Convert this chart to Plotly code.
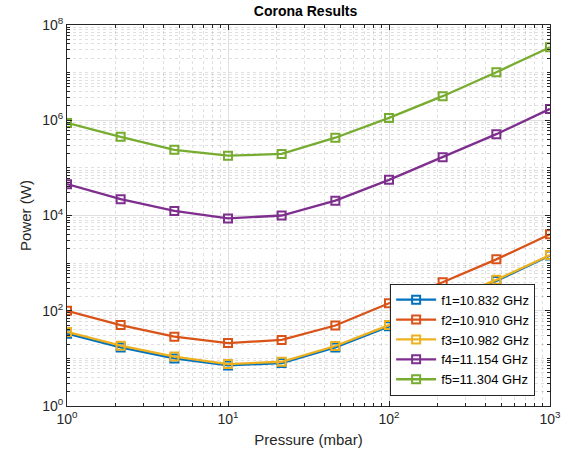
import plotly.graph_objects as go

pressure = [1, 2.154, 4.642, 10, 21.54, 46.42, 100, 215.4, 464.2, 1000]
f1 = [33, 17, 10, 7.1, 8.0, 17, 47, 145, 420, 1450]
f2 = [100, 50, 28.6, 21, 24.4, 49, 144, 397, 1200, 4040]
f3 = [36, 18.5, 10.9, 7.6, 8.5, 18.2, 50, 155, 445, 1480]
f4 = [45500, 22000, 12500, 8700, 10000, 20500, 56000, 167000, 510000, 1730000]
f5 = [880000, 450000, 240000, 180000, 196000, 430000, 1120000, 3200000, 10200000, 34000000]
names = ["f1=10.832 GHz", "f2=10.910 GHz", "f3=10.982 GHz", "f4=11.154 GHz", "f5=11.304 GHz"]
colors = ["#0072BD", "#D95319", "#EDB120", "#7E2F8E", "#77AC30"]

fig = go.Figure()
for ys, nm, c in zip([f1, f2, f3, f4, f5], names, colors):
    fig.add_trace(go.Scatter(
        x=pressure, y=ys, name=nm, mode="lines+markers",
        line=dict(color=c, width=2.3),
        marker=dict(symbol="square-open", size=8, color=c, line=dict(width=2, color=c)),
    ))

xminor = [m * 10**d for d in range(0, 3) for m in range(2, 10)]
yminor = [m * 10**d for d in range(0, 8) for m in range(1, 10) if not (m == 1 and d % 2 == 0)]

axis_common = dict(
    type="log", showline=True, linecolor="#262626", linewidth=1, mirror="ticks",
    ticks="inside", ticklen=5, tickcolor="#262626", automargin=False,
    showgrid=True, gridcolor="rgba(0,0,0,0.12)", gridwidth=1,
    zeroline=False, tickfont=dict(family="Liberation Sans, Arial", size=14, color="#262626"),
)
minor_common = dict(ticks="inside", ticklen=3, tickcolor="#262626",
                    showgrid=True, gridcolor="rgba(0,0,0,0.12)", griddash="dot", gridwidth=1)

fig.update_layout(
    width=568, height=460,
    margin=dict(l=67, r=18, t=25, b=54),
    paper_bgcolor="white", plot_bgcolor="white",
    title=dict(text="<b>Corona Results</b>", x=0.538, xanchor="center",
               yref="container", y=1 - 11 / 460, yanchor="middle",
               font=dict(family="Liberation Sans, Arial", size=14, color="black")),
    font=dict(family="Liberation Sans, Arial", color="#262626"),
    xaxis=dict(**axis_common, range=[0, 3],
               tickvals=[1, 10, 100, 1000],
               ticktext=["10<sup>0</sup>", "10<sup>1</sup>", "10<sup>2</sup>", "10<sup>3</sup>"],
               title=dict(text="Pressure (mbar)", font=dict(size=15), standoff=8),
               minor=dict(tickvals=xminor, **minor_common)),
    yaxis=dict(**axis_common, range=[0, 8],
               tickvals=[1, 1e2, 1e4, 1e6, 1e8],
               ticktext=["10<sup>0</sup>", "10<sup>2</sup>", "10<sup>4</sup>", "10<sup>6</sup>", "10<sup>8</sup>"],
               title=dict(text="Power (W)", font=dict(size=15), standoff=6),
               minor=dict(tickvals=yminor, **minor_common)),
    legend=dict(x=0.669, xanchor="left", y=0.027, yanchor="bottom",
                bgcolor="white", bordercolor="#262626", borderwidth=1,
                font=dict(family="Liberation Sans, Arial", size=13, color="black"),
                tracegroupgap=0, itemwidth=40),
    showlegend=True,
)

fig.write_html("out.html", config={"displayModeBar": False},
               post_script="document.body.style.margin='0';")
